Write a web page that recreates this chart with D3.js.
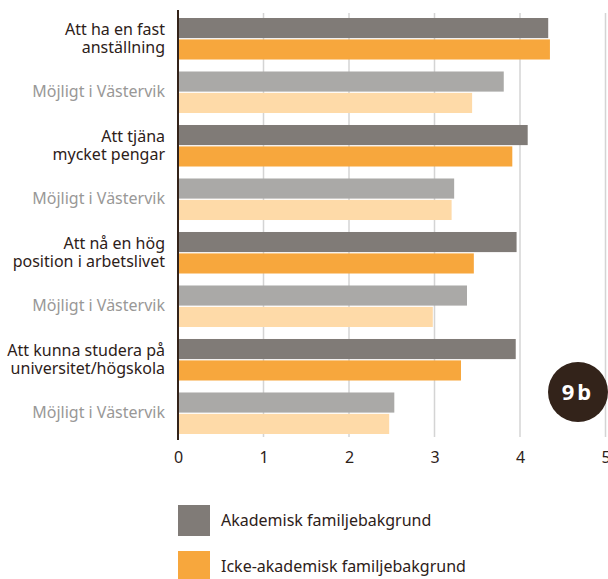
<!DOCTYPE html>
<html>
<head>
<meta charset="utf-8">
<script src="https://cdn.jsdelivr.net/npm/d3@7"></script>
<style>
  body { margin: 0; background: #fff; }
  svg { display: block; font-family: "Noto Sans", "Open Sans", sans-serif; }
</style>
</head>
<body>
<svg id="chart" width="608" height="579"></svg>
<script>
// categories, each with two label lines
const categories = [
  ["Att ha en fast", "anställning"],
  ["Att tjäna", "mycket pengar"],
  ["Att nå en hög", "position i arbetslivet"],
  ["Att kunna studera på", "universitet/högskola"]
];
const subLabel = "Möjligt i Västervik";

// importance ratings
const akademisk = [4.33, 4.09, 3.96, 3.95];
const ickeAkademisk = [4.35, 3.91, 3.46, 3.31];
// possible in Västervik
const mojligtAkademisk = [3.81, 3.23, 3.38, 2.53];
const mojligtIcke = [3.44, 3.20, 2.98, 2.47];

const xTicks = [0, 1, 2, 3, 4, 5];
const legendLabels = ["Akademisk familjebakgrund", "Icke-akademisk familjebakgrund"];

const colors = {
  dark: "#807b77", orange: "#f7a73d",
  lightDark: "#aaa9a7", lightOrange: "#fedaa8",
  text: "#2d2119", sub: "#999897", grid: "#d4d4d4", axis: "#33231a"
};

// build the 8 rows from the arrays
const rows = [];
categories.forEach((c, i) => {
  rows.push({key: "m" + i, label: c, main: true, a: akademisk[i], b: ickeAkademisk[i]});
  rows.push({key: "v" + i, label: [subLabel], main: false, a: mojligtAkademisk[i], b: mojligtIcke[i]});
});

const svg = d3.select("#chart");

const x = d3.scaleLinear().domain([0, 5]).range([178, 605.5]);
const y = d3.scaleBand()
  .domain(rows.map(d => d.key))
  .range([18, 434])
  .paddingInner(0.224)
  .paddingOuter(0);
const ySub = d3.scaleBand()
  .domain(["a", "b"])
  .range([0, y.bandwidth()])
  .paddingInner(0.06);

// gridlines
svg.append("g").selectAll("line")
  .data(xTicks.filter(d => d > 0))
  .join("line")
  .attr("x1", d => x(d)).attr("x2", d => x(d))
  .attr("y1", 13).attr("y2", 437)
  .attr("stroke", colors.grid)
  .attr("stroke-width", 1.5);

// bars
const rowG = svg.append("g").selectAll("g")
  .data(rows)
  .join("g")
  .attr("transform", d => "translate(0," + y(d.key) + ")");

rowG.append("rect")
  .attr("x", x(0))
  .attr("y", ySub("a"))
  .attr("width", d => x(d.a) - x(0))
  .attr("height", ySub.bandwidth())
  .attr("fill", d => d.main ? colors.dark : colors.lightDark);

rowG.append("rect")
  .attr("x", x(0))
  .attr("y", ySub("b"))
  .attr("width", d => x(d.b) - x(0))
  .attr("height", ySub.bandwidth())
  .attr("fill", d => d.main ? colors.orange : colors.lightOrange);

// row labels
rowG.append("text")
  .attr("text-anchor", "end")
  .attr("font-size", "16px")
  .attr("fill", d => d.main ? colors.text : colors.sub)
  .selectAll("tspan")
  .data(d => d.label.map((t, i) => ({t, i, n: d.label.length})))
  .join("tspan")
  .attr("x", 165)
  .attr("y", d => y.bandwidth() / 2 + 5 + (d.i - (d.n - 1) / 2) * 18)
  .text(d => d.t);

// zero axis line
svg.append("line")
  .attr("x1", x(0)).attr("x2", x(0))
  .attr("y1", 10).attr("y2", 440)
  .attr("stroke", colors.axis)
  .attr("stroke-width", 2);

// x axis
const xAxis = svg.append("g")
  .attr("transform", "translate(0,452)")
  .call(d3.axisBottom(x).tickValues(xTicks).tickSize(0).tickPadding(0).tickFormat(d3.format("d")));
xAxis.select(".domain").remove();
xAxis.selectAll("text")
  .attr("font-size", "16px")
  .attr("font-family", "\"Noto Sans\", sans-serif")
  .attr("fill", colors.text);

// badge
const badge = svg.append("g").attr("transform", "translate(578,392)");
badge.append("circle").attr("r", 30).attr("fill", colors.axis);
badge.append("text")
  .attr("text-anchor", "middle")
  .attr("y", 8)
  .attr("font-size", "22px")
  .attr("font-weight", "bold")
  .attr("letter-spacing", "3px")
  .attr("fill", "#fff")
  .text("9b");

// legend
const legend = svg.append("g").selectAll("g")
  .data(legendLabels)
  .join("g")
  .attr("transform", (d, i) => "translate(178," + (505 + i * 46) + ")");
legend.append("rect")
  .attr("width", 32).attr("height", 31)
  .attr("fill", (d, i) => i === 0 ? colors.dark : colors.orange);
legend.append("text")
  .attr("x", 43).attr("y", 21)
  .attr("font-size", "16px")
  .attr("fill", colors.text)
  .text(d => d);
</script>
</body>
</html>
